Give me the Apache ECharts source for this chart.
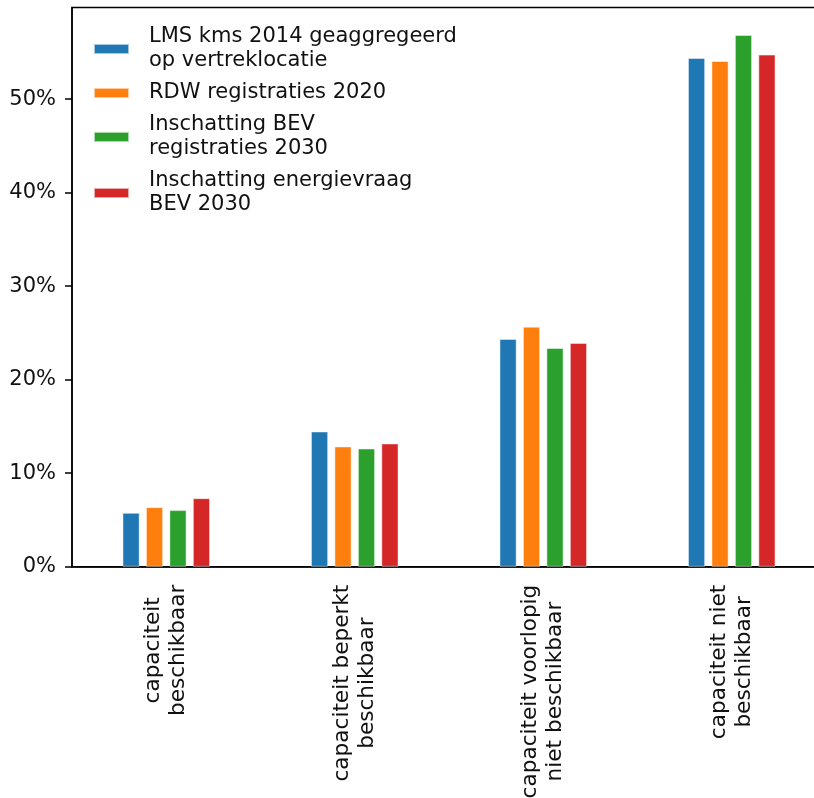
<!DOCTYPE html>
<html>
<head>
<meta charset="utf-8">
<script src="https://cdn.jsdelivr.net/npm/echarts@6/dist/echarts.min.js"></script>
<style>
  html, body { margin: 0; padding: 0; background: #fff; overflow: hidden; }
  #chart { width: 840px; height: 798px; }
</style>
</head>
<body>
<div id="chart"></div>
<script>
// Categories (netcapaciteit) and the share per source, in percent
const categories = [
  'capaciteit\nbeschikbaar',
  'capaciteit beperkt\nbeschikbaar',
  'capaciteit voorlopig\nniet beschikbaar',
  'capaciteit niet\nbeschikbaar'
];
const seriesNames = [
  'LMS kms 2014 geaggregeerd\nop vertreklocatie',
  'RDW registraties 2020',
  'Inschatting BEV\nregistraties 2030',
  'Inschatting energievraag\nBEV 2030'
];
const lmsKms2014 = [5.75, 14.45, 24.35, 54.39];
const rdw2020 = [6.36, 12.85, 25.66, 54.07];
const bevRegistraties2030 = [6.04, 12.63, 23.38, 56.85];
const bevEnergievraag2030 = [7.32, 13.17, 23.92, 54.75];
const yTicks = [0, 10, 20, 30, 40, 50];

const seriesData = [lmsKms2014, rdw2020, bevRegistraties2030, bevEnergievraag2030];
const colors = ['#1f77b4', '#ff7f0e', '#2ca02c', '#d62728'];
const FONT = 'DejaVu Sans';
const FS = 21;
const TEXT = '#111';

const chart = echarts.init(document.getElementById('chart'), null, { renderer: 'canvas' });

chart.setOption({
  animation: false,
  color: colors,
  textStyle: { fontFamily: FONT },
  grid: {
    left: 72, top: 7.5, width: 754, bottom: 231.3,
    containLabel: false,
    outerBoundsMode: 'none',
    show: true, borderColor: '#000', borderWidth: 1.5, backgroundColor: 'transparent'
  },
  legend: {
    orient: 'vertical',
    left: 93, top: 25,
    padding: 0,
    icon: 'rect',
    itemWidth: 35, itemHeight: 10, itemGap: 8,
    textStyle: {
      fontFamily: FONT, fontSize: FS, lineHeight: 24, color: TEXT,
      padding: [0, 0, 0, 15]
    },
    data: seriesNames
  },
  xAxis: {
    type: 'category',
    data: categories,
    boundaryGap: true,
    axisLine: { lineStyle: { color: '#000', width: 1.5 } },
    axisTick: { alignWithLabel: true, length: 7, lineStyle: { color: '#000', width: 1.5 } },
    axisLabel: {
      interval: 0,
      rotate: 90,
      margin: 18,
      formatter: v => v.split('\n').map(s => '{c|' + s + '}').join('\n'),
      rich: {
        c: { align: 'center', fontFamily: FONT, fontSize: 21.6, lineHeight: 25, color: TEXT }
      }
    },
    splitLine: { show: false }
  },
  yAxis: {
    type: 'value',
    min: 0, max: 59.8, interval: 10,
    axisLine: { show: true, lineStyle: { color: '#000', width: 1.5 } },
    axisTick: { show: true, length: 7, customValues: yTicks, lineStyle: { color: '#000', width: 1.5 } },
    axisLabel: {
      customValues: yTicks,
      formatter: '{value}%',
      margin: 16,
      fontFamily: FONT, fontSize: FS, color: TEXT
    },
    splitLine: { show: false }
  },
  series: seriesNames.map((name, i) => ({
    name,
    type: 'bar',
    data: seriesData[i],
    barWidth: 17,
    barGap: '38%',
    itemStyle: { color: colors[i], borderColor: 'rgba(255,255,255,0.6)', borderWidth: 0.8 }
  }))
});
</script>
</body>
</html>
